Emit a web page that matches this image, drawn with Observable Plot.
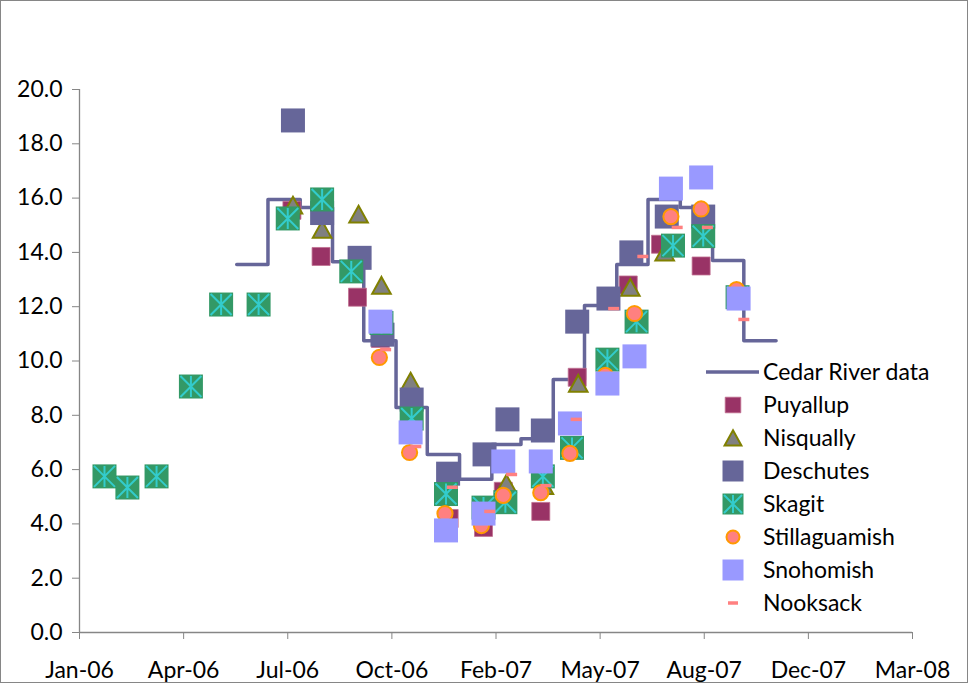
<!DOCTYPE html>
<html><head><meta charset="utf-8">
<script src="https://cdn.jsdelivr.net/npm/d3@7"></script>
<script src="https://cdn.jsdelivr.net/npm/@observablehq/plot@0.6"></script>
<style>
html,body{margin:0;padding:0;background:#fff;}
#wrap{position:relative;width:968px;height:684px;overflow:hidden;background:#fff;}
#overlay{position:absolute;left:0;top:0;pointer-events:none;}
</style></head><body><div id="wrap"></div>
<script>
// ---------- data ----------
const X_DOMAIN = ["2006-01-01", "2008-03-11"];
const X_TICKS = ["2006-01-01","2006-04-11","2006-07-20","2006-10-28","2007-02-05","2007-05-16","2007-08-24","2007-12-02","2008-03-11"];
const Y_TICKS = [0,2,4,6,8,10,12,14,16,18,20];

const cedarDates = ["2006-06-01","2006-07-01","2006-08-01","2006-09-01","2006-10-01","2006-11-01","2006-12-01","2007-01-01","2007-02-01","2007-03-01","2007-04-01","2007-05-01","2007-06-01","2007-07-01","2007-08-01","2007-09-01","2007-10-01","2007-11-01"];
const cedarValues = [13.55,15.95,15.65,13.66,10.75,8.29,6.56,5.64,6.92,7.14,9.32,12.04,13.55,15.95,15.65,13.7,10.75,10.75];

const puyallupDates = ["2006-07-24","2006-08-21","2006-09-25","2006-10-17","2006-12-22","2007-01-24","2007-02-12","2007-03-20","2007-04-24","2007-06-12","2007-07-13","2007-08-21"];
const puyallupValues = [15.55,13.85,12.35,10.83,4.2,3.87,5.2,4.46,9.4,12.8,14.3,13.5];

const nisquallyDates = ["2006-07-25","2006-08-22","2006-09-26","2006-10-18","2006-11-15","2007-02-15","2007-03-23","2007-04-25","2007-06-14","2007-07-17"];
const nisquallyValues = [15.73,14.84,15.4,12.78,9.25,5.49,5.4,9.17,12.7,14.0];

const deschutesDates = ["2006-07-25","2006-08-22","2006-09-27","2006-10-19","2006-11-16","2006-12-21","2007-01-25","2007-02-16","2007-03-22","2007-04-24","2007-05-24","2007-06-15","2007-07-19","2007-08-23"];
const deschutesValues = [18.86,15.45,13.8,10.97,8.58,5.85,6.56,7.85,7.44,11.45,12.3,14.0,15.32,15.32];

const skagitDates = ["2006-01-25","2006-02-16","2006-03-16","2006-04-18","2006-05-17","2006-06-22","2006-07-20","2006-08-22","2006-09-19","2006-10-18","2006-11-16","2006-12-19","2007-01-24","2007-02-14","2007-03-22","2007-04-19","2007-05-23","2007-06-20","2007-07-25","2007-08-23","2007-09-25"];
const skagitValues = [5.75,5.34,5.75,9.06,12.08,12.08,15.25,15.95,13.3,11.4,7.88,5.1,4.6,4.8,5.75,6.8,10.05,11.45,14.25,14.6,12.35];

const stillaguamishDates = ["2006-10-16","2006-11-14","2006-12-18","2007-01-22","2007-02-12","2007-03-20","2007-04-17","2007-05-21","2007-06-18","2007-07-23","2007-08-21","2007-09-24"];
const stillaguamishValues = [10.13,6.63,4.38,3.94,5.05,5.15,6.6,9.47,11.75,15.32,15.6,12.63];

const snohomishDates = ["2006-10-17","2006-11-15","2006-12-19","2007-01-24","2007-02-12","2007-03-20","2007-04-17","2007-05-23","2007-06-18","2007-07-23","2007-08-21","2007-09-26"];
const snohomishValues = [11.45,7.37,3.76,4.38,6.3,6.3,7.7,9.17,10.17,16.35,16.76,12.3];

const nooksackDates = ["2006-10-22","2006-11-20","2006-12-25","2007-01-30","2007-02-20","2007-03-25","2007-04-23","2007-05-29","2007-06-26","2007-07-29","2007-08-27","2007-10-01"];
const nooksackValues = [10.42,6.85,5.35,4.46,5.82,5.41,7.85,11.93,13.85,14.92,14.92,11.53];

const legendNames = ["Cedar River data","Puyallup","Nisqually","Deschutes","Skagit","Stillaguamish","Snohomish","Nooksack"];

// ---------- helpers ----------
const parse = d3.utcParse("%Y-%m-%d");
const rows = (dates, vals) => dates.map((d, i) => ({date: parse(d), value: vals[i]}));

const cedar = rows(cedarDates, cedarValues);
const puyallup = rows(puyallupDates, puyallupValues);
const nisqually = rows(nisquallyDates, nisquallyValues);
const deschutes = rows(deschutesDates, deschutesValues);
const skagit = rows(skagitDates, skagitValues);
const stilla = rows(stillaguamishDates, stillaguamishValues);
const snohomish = rows(snohomishDates, snohomishValues);
const nooksack = rows(nooksackDates, nooksackValues);

const rad = (size) => Math.sqrt(size / Math.PI);
const symSquare = {draw(ctx, size){ const r = rad(size); ctx.rect(-r, -r, 2*r, 2*r); }};
const symAsterisk = {draw(ctx, size){ const r = rad(size);
  ctx.moveTo(0, -r); ctx.lineTo(0, r);
  ctx.moveTo(-r, -r); ctx.lineTo(r, r);
  ctx.moveTo(r, -r); ctx.lineTo(-r, r); }};
const symTriangle = {draw(ctx, size){ const r = rad(size);
  ctx.moveTo(0, -r); ctx.lineTo(r*1.08, r*0.95); ctx.lineTo(-r*1.08, r*0.95); ctx.closePath(); }};
const symDash = {draw(ctx, size){ const r = rad(size); ctx.rect(-r, -1.75, 2*r, 3.5); }};

const FONT = "Lato, 'Open Sans', sans-serif";
const AX = "#868686";

const chart = Plot.plot({
  width: 968, height: 684,
  marginLeft: 79, marginRight: 56, marginTop: 89, marginBottom: 52,
  style: {fontFamily: FONT, fontSize: "23px", color: "#000", background: "transparent", overflow: "visible"},
  x: {type: "utc", domain: X_DOMAIN.map(parse)},
  y: {domain: [0, 20]},
  marks: [
    Plot.ruleY([0], {stroke: AX, strokeWidth: 1.3}),
    Plot.ruleX([parse(X_DOMAIN[0])], {stroke: AX, strokeWidth: 1.3}),
    Plot.axisY({ticks: Y_TICKS, tickFormat: d => d.toFixed(1), tickSize: 7, tickPadding: 10, stroke: AX, fill: "#000", label: null, fontSize: 23}),
    Plot.axisX({ticks: X_TICKS.map(parse), tickFormat: d3.utcFormat("%b-%y"), tickSize: 7, tickPadding: 22, stroke: AX, fill: "#000", label: null, fontSize: 23}),
    Plot.line(cedar, {x: "date", y: "value", curve: "step-after", stroke: "#666699", strokeWidth: 3.5}),
    Plot.dot(puyallup, {x: "date", y: "value", symbol: symSquare, r: 9, fill: "#993366", stroke: "#c07090", strokeWidth: 0.8}),
    Plot.dot(nisqually, {x: "date", y: "value", symbol: symTriangle, r: 8.6, fill: "#808080", stroke: "#808000", strokeWidth: 2}),
    Plot.dot(deschutes, {x: "date", y: "value", symbol: symSquare, r: 12, fill: "#666699", stroke: "none"}),
    Plot.dot(skagit, {x: "date", y: "value", symbol: symSquare, r: 12, fill: "#339966", stroke: "none"}),
    Plot.dot(skagit, {x: "date", y: "value", symbol: symAsterisk, r: 10.5, fill: "none", stroke: "#33CCCC", strokeWidth: 2}),
    Plot.dot(stilla, {x: "date", y: "value", symbol: "circle", r: 7.6, fill: "#FF8080", stroke: "#FF9900", strokeWidth: 2}),
    Plot.dot(snohomish, {x: "date", y: "value", symbol: symSquare, r: 12, fill: "#9999FF", stroke: "none"}),
    Plot.dot(nooksack, {x: "date", y: "value", symbol: symDash, r: 5.5, fill: "#FF8080", stroke: "none"})
  ]
});

const wrap = document.getElementById("wrap");
wrap.appendChild(chart);

// ---------- legend + frame overlay ----------
const ov = d3.select(wrap).append("svg").attr("id", "overlay")
  .attr("width", 968).attr("height", 684)
  .style("font-family", FONT).style("font-size", "23px");

ov.append("rect").attr("x", 0.5).attr("y", 0.5).attr("width", 967).attr("height", 682)
  .attr("fill", "none").attr("stroke", AX).attr("stroke-width", 1);

const lg = ov.append("g");
const lx = 733, tx = 763, y0 = 372, dy = 33;
legendNames.forEach((name, i) => {
  const y = y0 + i * dy;
  const g = lg.append("g").attr("transform", `translate(${lx},${y})`);
  const sym = (s, size) => d3.symbol(s, size * size * Math.PI)();
  if (i === 0) {
    g.append("line").attr("x1", -27).attr("x2", 26).attr("stroke", "#666699").attr("stroke-width", 3.5);
  } else if (i === 1) {
    g.append("path").attr("d", sym(symSquare, 7.8)).attr("fill", "#993366").attr("stroke", "#c07090").attr("stroke-width", 0.8);
  } else if (i === 2) {
    g.append("path").attr("d", sym(symTriangle, 7.8)).attr("fill", "#808080").attr("stroke", "#808000").attr("stroke-width", 2);
  } else if (i === 3) {
    g.append("path").attr("d", sym(symSquare, 10.5)).attr("fill", "#666699");
  } else if (i === 4) {
    g.append("path").attr("d", sym(symSquare, 10.5)).attr("fill", "#339966");
    g.append("path").attr("d", sym(symAsterisk, 9)).attr("fill", "none").attr("stroke", "#33CCCC").attr("stroke-width", 2);
  } else if (i === 5) {
    g.append("circle").attr("r", 6.5).attr("fill", "#FF8080").attr("stroke", "#FF9900").attr("stroke-width", 2);
  } else if (i === 6) {
    g.append("path").attr("d", sym(symSquare, 10.5)).attr("fill", "#9999FF");
  } else {
    g.append("path").attr("d", sym(symDash, 5)).attr("fill", "#FF8080");
  }
  lg.append("text").attr("x", tx).attr("y", y).attr("dy", "0.35em").attr("fill", "#000").text(name);
});
</script>
</body></html>
